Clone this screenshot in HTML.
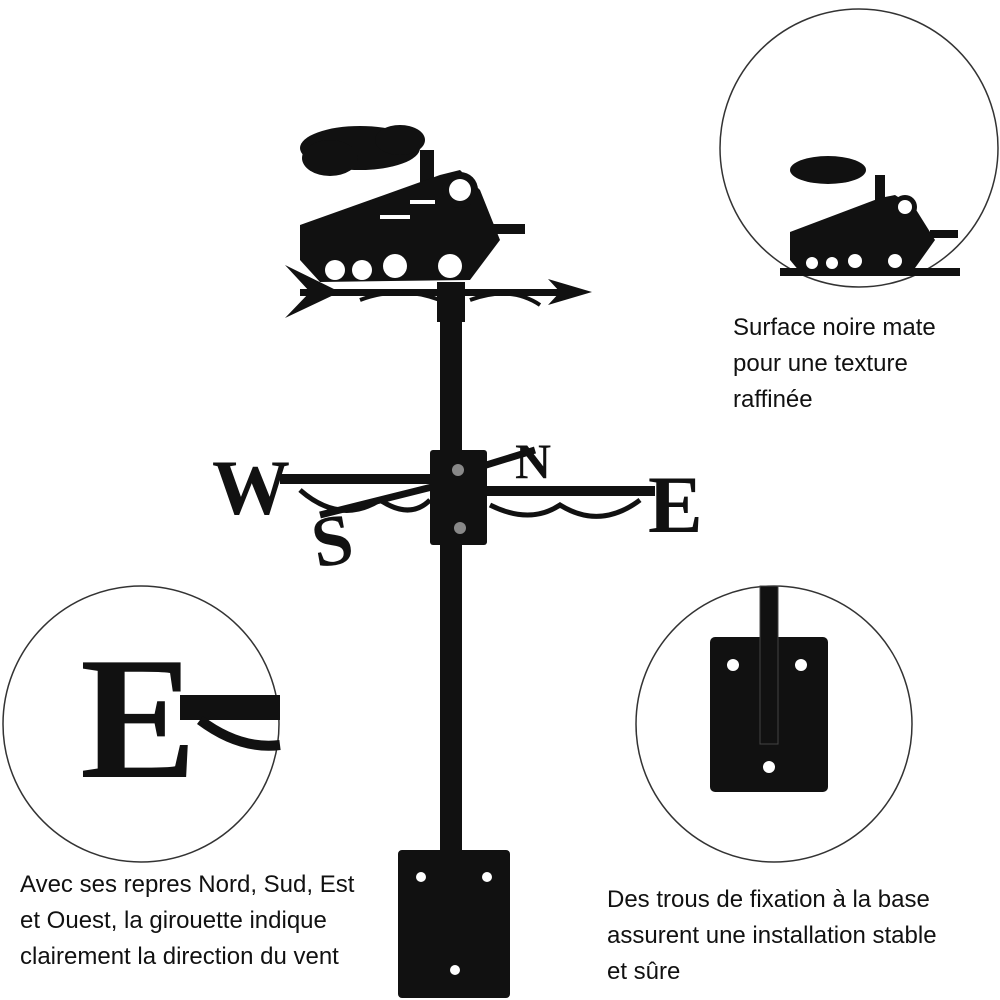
<!DOCTYPE html>
<html><head><meta charset="utf-8">
<style>
html,body{margin:0;padding:0;background:#fff;}
.wrap{position:relative;width:1000px;height:1000px;overflow:hidden;font-family:"Liberation Sans",sans-serif;}
.t{position:absolute;font-size:24px;line-height:36px;color:#111;}
</style></head><body><div class="wrap">
<svg width="1000" height="1000" viewBox="0 0 1000 1000" style="position:absolute;left:0;top:0">
<!-- circles -->
<circle cx="859" cy="148" r="139" fill="none" stroke="#333" stroke-width="1.5"/>
<circle cx="141" cy="724" r="138" fill="none" stroke="#333" stroke-width="1.5"/>
<circle cx="774" cy="724" r="138" fill="none" stroke="#333" stroke-width="1.5"/>

<!-- main pole -->
<rect x="440" y="295" width="22" height="560" fill="#111"/>
<!-- base plate -->
<rect x="398" y="850" width="112" height="148" rx="4" fill="#111"/>
<circle cx="421" cy="877" r="5" fill="#fff"/><circle cx="487" cy="877" r="5" fill="#fff"/><circle cx="455" cy="970" r="5" fill="#fff"/>

<!-- arrow -->
<rect x="300" y="289" width="270" height="7" fill="#111"/>
<polygon points="592,292 548,279 560,292 548,305" fill="#111"/>
<polygon points="285,265 340,292 285,318 310,292" fill="#111"/>
<path d="M360,300 Q400,285 440,300 M470,300 Q510,285 540,305" stroke="#111" stroke-width="4" fill="none"/>
<rect x="437" y="282" width="28" height="40" fill="#111"/>

<!-- train -->
<g fill="#111">
<ellipse cx="360" cy="148" rx="60" ry="22"/>
<ellipse cx="330" cy="158" rx="28" ry="18"/>
<ellipse cx="400" cy="140" rx="25" ry="15"/>
<rect x="420" y="150" width="14" height="40"/>
<polygon points="300,225 440,175 460,170 480,190 500,240 470,280 320,282 300,260"/>
<circle cx="460" cy="190" r="18"/>
<rect x="490" y="224" width="35" height="10"/>
</g>
<g fill="#fff"><circle cx="335" cy="270" r="10"/><circle cx="362" cy="270" r="10"/><circle cx="395" cy="266" r="12"/><circle cx="450" cy="266" r="12"/><circle cx="460" cy="190" r="11"/>
<rect x="380" y="215" width="30" height="4"/><rect x="410" y="200" width="25" height="4"/></g>

<!-- crossarms -->
<rect x="280" y="474" width="160" height="10" fill="#111"/>
<rect x="480" y="486" width="175" height="10" fill="#111"/>
<path d="M300,490 Q340,525 380,500 Q410,520 430,500" stroke="#111" stroke-width="5" fill="none"/>
<path d="M490,505 Q530,525 560,505 Q600,530 640,500" stroke="#111" stroke-width="5" fill="none"/>
<path d="M320,515 L440,485 M470,470 L535,450" stroke="#111" stroke-width="7"/>
<text x="212" y="514" font-family="Liberation Serif,serif" font-weight="bold" font-size="78" fill="#111">W</text>
<text x="648" y="532" font-family="Liberation Serif,serif" font-weight="bold" font-size="82" fill="#111">E</text>
<text x="312" y="565" font-family="Liberation Serif,serif" font-weight="bold" font-size="72" fill="#111" transform="rotate(-10 330 540)">S</text>
<text x="515" y="478" font-family="Liberation Serif,serif" font-weight="bold" font-size="50" fill="#111">N</text>
<!-- center bracket -->
<rect x="430" y="450" width="57" height="95" rx="3" fill="#111"/>
<circle cx="458" cy="470" r="6" fill="#888"/><circle cx="460" cy="528" r="6" fill="#888"/>

<!-- zoom top-right train -->
<g fill="#111">
<ellipse cx="828" cy="170" rx="38" ry="14"/>
<rect x="875" y="175" width="10" height="25"/>
<polygon points="790,232 880,198 895,195 915,208 935,240 915,268 800,272 790,260"/>
<circle cx="905" cy="207" r="12"/>
<rect x="930" y="230" width="28" height="8"/>
<rect x="780" y="268" width="180" height="8"/>
</g>
<g fill="#fff"><circle cx="812" cy="263" r="6"/><circle cx="832" cy="263" r="6"/><circle cx="855" cy="261" r="7"/><circle cx="895" cy="261" r="7"/><circle cx="905" cy="207" r="7"/></g>

<!-- zoom left E -->
<text x="80" y="777" font-family="Liberation Serif,serif" font-weight="bold" font-size="175" fill="#111">E</text>
<rect x="180" y="695" width="100" height="25" fill="#111"/>
<path d="M200,720 Q240,750 280,745" stroke="#111" stroke-width="10" fill="none"/>

<!-- zoom right plate -->
<rect x="710" y="637" width="118" height="155" rx="5" fill="#111"/>
<rect x="760" y="586" width="18" height="158" fill="#111" stroke="#444" stroke-width="1"/>
<circle cx="733" cy="665" r="6" fill="#fff"/><circle cx="801" cy="665" r="6" fill="#fff"/><circle cx="769" cy="767" r="6" fill="#fff"/>
</svg>

<div class="t" style="left:733px;top:310px;">Surface noire mate<br>pour une texture<br>raffinée</div>
<div class="t" style="left:20px;top:867px;">Avec ses repres Nord, Sud, Est<br>et Ouest, la girouette indique<br>clairement la direction du vent</div>
<div class="t" style="left:607px;top:882px;">Des trous de fixation à la base<br>assurent une installation stable<br>et sûre</div>
</div></body></html>
